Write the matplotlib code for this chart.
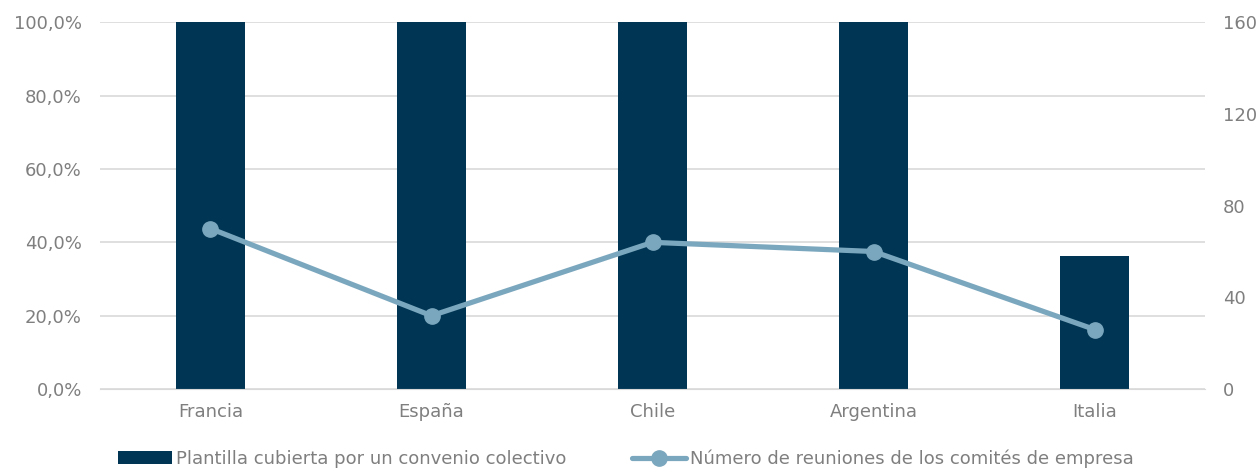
import matplotlib.pyplot as plt
from matplotlib.ticker import FuncFormatter

paises = ['Francia', 'España', 'Chile', 'Argentina', 'Italia']
cobertura = [100.0, 100.0, 100.0, 100.0, 36.2]   # % plantilla cubierta
reuniones = [70, 32, 64, 60, 26]                 # nº reuniones comités

color_barra = '#003654'
color_linea = '#7BA7BE'
gris = '#7F7F7F'

plt.rcParams['font.family'] = ['DejaVu Sans']

fig = plt.figure(figsize=(12.59, 4.70), dpi=100)
ax = fig.add_axes([0.0794, 0.172, 0.8778, 0.781])
ax2 = ax.twinx()

x = list(range(len(paises)))
ax.bar(x, cobertura, width=0.31, color=color_barra, zorder=2,
       label='Plantilla cubierta por un convenio colectivo')
ax2.plot(x, reuniones, color=color_linea, lw=3.75, marker='o', ms=11,
         solid_capstyle='round', zorder=3,
         label='Número de reuniones de los comités de empresa')

ax.set_xlim(-0.5, len(paises) - 0.5)
ax.set_ylim(0, 100)
ax2.set_ylim(0, 160)
ax.set_yticks([0, 20, 40, 60, 80, 100])
ax2.set_yticks([0, 40, 80, 120, 160])
ax.yaxis.set_major_formatter(FuncFormatter(lambda v, p: f'{v:.1f}%'.replace('.', ',')))

ax.set_xticks(x)
ax.set_xticklabels(paises)
ax.grid(axis='y', color='#D9D9D9', lw=1.2, zorder=0)
ax.set_axisbelow(True)

for a in (ax, ax2):
    for s in a.spines.values():
        s.set_visible(False)
    a.tick_params(length=0, labelsize=13, colors=gris)
ax.spines['bottom'].set_visible(True)
ax.spines['bottom'].set_color('#D9D9D9')
ax.tick_params(axis='y', pad=13)
ax.tick_params(axis='x', pad=10)
ax2.tick_params(axis='y', pad=13)

h1, l1 = ax.get_legend_handles_labels()
h2, l2 = ax2.get_legend_handles_labels()
fig.legend(h1 + h2, l1 + l2, loc='center', bbox_to_anchor=(0.497, 0.024),
           ncol=2, frameon=False, fontsize=13, labelcolor=gris,
           handlelength=3.0, handletextpad=0.22, columnspacing=3.6)

fig.savefig('out.png', dpi=100)
